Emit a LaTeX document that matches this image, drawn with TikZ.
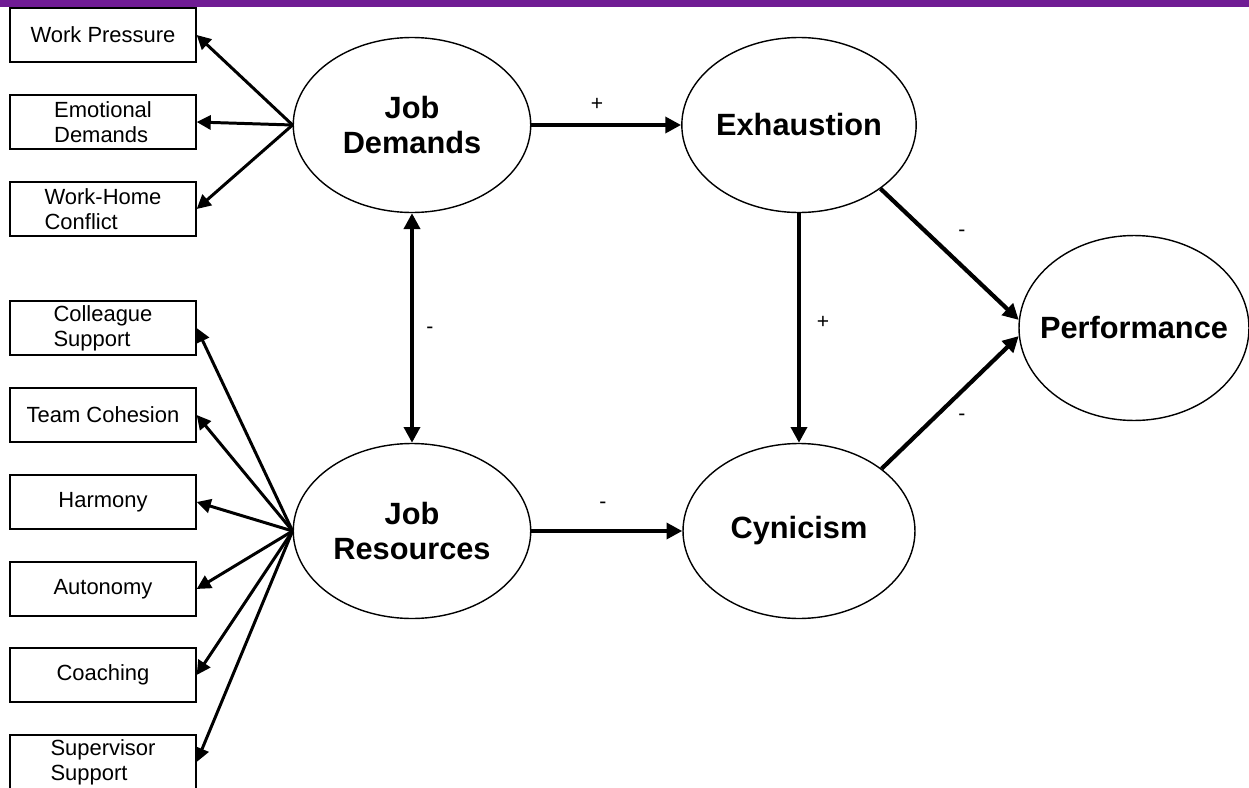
\documentclass[tikz,border=0pt]{standalone}
\usepackage{fontspec}
\setmainfont{Liberation Sans}
\usetikzlibrary{arrows.meta,shapes.geometric}
\definecolor{barpurple}{RGB}{112,28,148}

\begin{document}
\begin{tikzpicture}[x=0.02cm,y=-0.02cm,
	factor/.style={draw,line width=0.8pt,minimum width=3.72cm,minimum height=1.08cm,inner sep=1pt,align=left,font=\fontsize{12.5}{14.2}\selectfont},
	latent/.style={draw,ellipse,line width=0.8pt,minimum width=4.75cm,minimum height=3.5cm,inner sep=0pt,align=center,font=\bfseries\fontsize{17.5}{20.4}\selectfont},
	fan/.style={line width=1.7pt,-{Triangle[length=8pt,width=8pt]}},
	path/.style={line width=2.4pt,-{Triangle[length=9pt,width=9pt]}},
	sign/.style={font=\fontsize{12}{14}\selectfont,inner sep=1pt}]
			\useasboundingbox (0,0) rectangle (1249,788);
			\clip (0,0) rectangle (1249,788);
			\fill [barpurple] (0,0) rectangle (1249,7);
			
			\node (wp) [factor] at (103,35) {Work Pressure};
			\node (ed) [factor] at (103,122) {Emotional\\Demands};
			\node (whc) [factor] at (103,209) {Work-Home\\Conflict};
			
			\node (cs) [factor] at (103,328) {Colleague\\Support};
			\node (tc) [factor] at (103,415) {Team Cohesion};
			\node (hm) [factor] at (103,502) {Harmony};
			\node (au) [factor] at (103,589) {Autonomy};
			\node (co) [factor] at (103,675) {Coaching};
			\node (ss) [factor] at (103,762) {Supervisor\\Support};
			
			\node (jd) [latent] at (412,125) {Job\\Demands};
			\node (jr) [latent] at (412,531) {Job\\Resources};
			\node (ex) [latent,minimum width=4.64cm] at (799,125) {Exhaustion};
			\node (cy) [latent,minimum width=4.64cm] at (799,531) {Cynicism};
			\node (pf) [latent,inner xsep=-9pt,minimum width=4.6cm,minimum height=3.7cm] at (1134,328) {Performance};
			
			\foreach \t in {wp,ed,whc}
				\draw [fan] (jd.west) -- (\t.east);
			\foreach \t in {cs,tc,hm,au,co,ss}
				\draw [fan] (jr.west) -- (\t.east);
			
			\draw [path] (jd.east) -- (ex.west);
			\draw [path,{Triangle[length=9pt,width=9pt]}-{Triangle[length=9pt,width=9pt]}] (jd.south) -- (jr.north);
			\draw [path] (jr.east) -- (cy.west);
			\draw [path] (ex.south) -- (cy.north);
			\draw [path] (ex.-38) -- (pf.176);
			\draw [path] (cy.37) -- (pf.184);
			
			\node (sJDEX) [sign] at (597,104) {+};
			\node (sJDJR) [sign] at (430,330) {-};
			\node (sJRCY) [sign] at (603,505) {-};
			\node (sEXCY) [sign] at (823,322) {+};
			\node (sEXPF) [sign] at (962,233) {-};
			\node (sCYPF) [sign] at (962,417) {-};
		\end{tikzpicture}
\end{document}
